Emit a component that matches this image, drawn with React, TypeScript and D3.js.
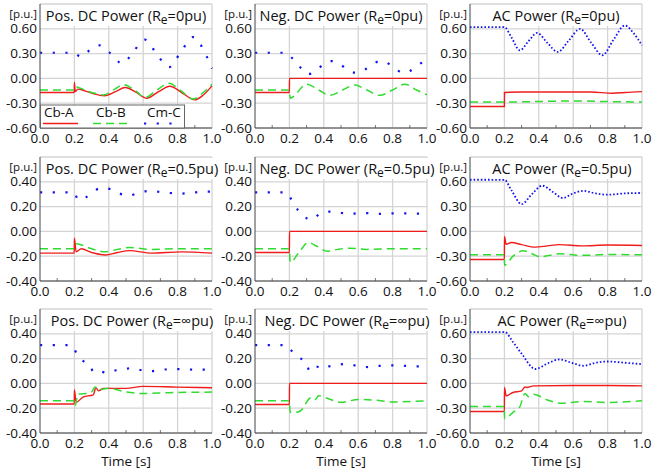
import React, { useEffect, useRef } from 'react';
import * as d3 from 'd3';

type Pt = [number, number];

// text
const powerNames = ['Pos. DC Power', 'Neg. DC Power', 'AC Power'];
const reLabels = ['0', '0.5', '∞'];
const legendNames = ['Cb-A', 'Cb-B', 'Cm-C'];
const xTicks = [0, 0.2, 0.4, 0.6, 0.8, 1.0];
const wideTicks = [-0.6, -0.3, 0, 0.3, 0.6];
const narrowTicks = [-0.4, -0.2, 0, 0.2, 0.4];
const wideDomain: Pt = [-0.6, 0.9];
const narrowDomain: Pt = [-0.4, 0.6];

// Re = 0pu
const pos0A: Pt[] = [[0, -0.17], [0.199, -0.17], [0.2, -0.05], [0.205, -0.16], [0.22, -0.13], [0.26, -0.15], [0.31, -0.185], [0.375, -0.21], [0.44, -0.16], [0.495, -0.11], [0.56, -0.17], [0.62, -0.24], [0.69, -0.16], [0.755, -0.095], [0.83, -0.18], [0.9, -0.26], [0.95, -0.2], [1.0, -0.09]];
const pos0B: Pt[] = [[0, -0.14], [0.199, -0.14], [0.205, -0.1], [0.23, -0.115], [0.3, -0.17], [0.37, -0.2], [0.43, -0.135], [0.485, -0.075], [0.55, -0.14], [0.61, -0.23], [0.68, -0.14], [0.75, -0.06], [0.82, -0.15], [0.89, -0.25], [0.95, -0.17], [1.0, -0.07]];
const pos0C: Pt[] = [[0, 0.31], [0.2, 0.31], [0.235, 0.26], [0.275, 0.32], [0.345, 0.4], [0.4, 0.32], [0.48, 0.18], [0.547, 0.336], [0.61, 0.47], [0.682, 0.284], [0.75, 0.135], [0.818, 0.316], [0.89, 0.5], [0.965, 0.284], [1.0, 0.12]];

const neg0A: Pt[] = [[0, -0.17], [0.2, -0.17], [0.2005, 0], [1.0, 0]];
const neg0B: Pt[] = [[0, -0.14], [0.199, -0.14], [0.205, -0.24], [0.22, -0.225], [0.3, -0.07], [0.37, -0.14], [0.435, -0.205], [0.51, -0.14], [0.58, -0.08], [0.65, -0.14], [0.725, -0.205], [0.8, -0.14], [0.87, -0.07], [0.94, -0.14], [1.0, -0.2]];
const neg0C: Pt[] = [[0, 0.31], [0.185, 0.31], [0.2, 0.276], [0.232, 0.215], [0.265, 0.13], [0.305, 0.05], [0.354, 0.093], [0.393, 0.162], [0.44, 0.21], [0.489, 0.182], [0.532, 0.113], [0.58, 0.07], [0.638, 0.105], [0.681, 0.166], [0.729, 0.211], [0.783, 0.17], [0.822, 0.105], [0.87, 0.065], [0.919, 0.113], [0.963, 0.182], [1.0, 0.21]];

const ac0A: Pt[] = [[0, -0.34], [0.2, -0.34], [0.2005, -0.17], [0.3, -0.165], [0.5, -0.165], [0.7, -0.165], [0.83, -0.18], [0.9, -0.17], [1.0, -0.16]];
const ac0B: Pt[] = [[0, -0.285], [0.2, -0.285], [0.4, -0.28], [0.6, -0.272], [0.8, -0.28], [1.0, -0.285]];
const ac0C: Pt[] = [[0, 0.62], [0.2, 0.62], [0.24, 0.5], [0.29, 0.34], [0.34, 0.45], [0.39, 0.55], [0.45, 0.43], [0.51, 0.32], [0.575, 0.46], [0.64, 0.6], [0.705, 0.43], [0.77, 0.28], [0.835, 0.47], [0.9, 0.64], [0.95, 0.55], [1.0, 0.4]];

// Re = 0.5pu
const posHalfA: Pt[] = [[0, -0.175], [0.199, -0.175], [0.2, -0.055], [0.21, -0.165], [0.24, -0.14], [0.3, -0.17], [0.38, -0.19], [0.45, -0.17], [0.52, -0.155], [0.65, -0.175], [0.82, -0.165], [1.0, -0.175]];
const posHalfB: Pt[] = [[0, -0.14], [0.199, -0.14], [0.21, -0.1], [0.3, -0.14], [0.38, -0.165], [0.45, -0.145], [0.52, -0.13], [0.65, -0.145], [0.8, -0.14], [1.0, -0.14]];
const posHalfC: Pt[] = [[0, 0.315], [0.2, 0.315], [0.22, 0.256], [0.267, 0.275], [0.306, 0.315], [0.355, 0.35], [0.407, 0.342], [0.455, 0.31], [0.514, 0.288], [0.572, 0.31], [0.63, 0.326], [0.688, 0.32], [0.752, 0.31], [0.814, 0.305], [0.882, 0.31], [0.94, 0.32], [1.0, 0.32]];

const negHalfA: Pt[] = [[0, -0.17], [0.2, -0.17], [0.2005, 0], [1.0, 0]];
const negHalfB: Pt[] = [[0, -0.14], [0.199, -0.14], [0.205, -0.25], [0.25, -0.18], [0.31, -0.09], [0.36, -0.12], [0.42, -0.16], [0.48, -0.145], [0.55, -0.135], [0.65, -0.145], [0.8, -0.14], [1.0, -0.14]];
const negHalfC: Pt[] = [[0, 0.315], [0.185, 0.315], [0.2, 0.283], [0.222, 0.234], [0.251, 0.17], [0.284, 0.121], [0.329, 0.094], [0.371, 0.135], [0.426, 0.159], [0.484, 0.154], [0.547, 0.14], [0.613, 0.148], [0.677, 0.148], [0.745, 0.14], [0.812, 0.146], [0.88, 0.146], [0.948, 0.143], [1.0, 0.143]];

const acHalfA: Pt[] = [[0, -0.34], [0.2, -0.34], [0.2005, -0.06], [0.21, -0.155], [0.24, -0.135], [0.3, -0.16], [0.38, -0.19], [0.45, -0.175], [0.52, -0.16], [0.65, -0.175], [0.8, -0.165], [1.0, -0.17]];
const acHalfB: Pt[] = [[0, -0.283], [0.2, -0.283], [0.2005, -0.41], [0.25, -0.3], [0.31, -0.234], [0.36, -0.27], [0.41, -0.31], [0.46, -0.29], [0.52, -0.27], [0.65, -0.29], [0.8, -0.28], [1.0, -0.283]];
const acHalfC: Pt[] = [[0, 0.625], [0.2, 0.625], [0.24, 0.5], [0.3, 0.33], [0.36, 0.45], [0.42, 0.553], [0.48, 0.48], [0.54, 0.404], [0.6, 0.46], [0.66, 0.49], [0.73, 0.46], [0.8, 0.444], [0.9, 0.46], [1.0, 0.465]];

// Re = inf
const posInfA: Pt[] = [[0, -0.166], [0.199, -0.166], [0.2, -0.05], [0.21, -0.153], [0.25, -0.11], [0.31, -0.092], [0.325, -0.034], [0.34, -0.06], [0.37, -0.04], [0.5, -0.04], [0.6, -0.024], [0.8, -0.03], [1.0, -0.035]];
const posInfB: Pt[] = [[0, -0.14], [0.199, -0.14], [0.205, -0.18], [0.22, -0.087], [0.28, -0.08], [0.3, -0.07], [0.32, -0.03], [0.34, -0.05], [0.4, -0.04], [0.5, -0.069], [0.6, -0.082], [0.75, -0.075], [1.0, -0.07]];
const posInfC: Pt[] = [[0, 0.309], [0.185, 0.309], [0.198, 0.282], [0.213, 0.24], [0.242, 0.19], [0.287, 0.15], [0.314, 0.09], [0.349, 0.098], [0.388, 0.084], [0.442, 0.106], [0.488, 0.116], [0.539, 0.124], [0.585, 0.108], [0.636, 0.098], [0.694, 0.106], [0.756, 0.116], [0.843, 0.113], [0.92, 0.111], [1.0, 0.111]];

const negInfA: Pt[] = [[0, -0.17], [0.2, -0.17], [0.2005, 0], [1.0, 0]];
const negInfB: Pt[] = [[0, -0.14], [0.199, -0.14], [0.205, -0.235], [0.25, -0.23], [0.28, -0.2], [0.3, -0.15], [0.33, -0.113], [0.35, -0.13], [0.37, -0.1], [0.42, -0.12], [0.5, -0.153], [0.6, -0.13], [0.7, -0.135], [0.8, -0.15], [1.0, -0.14]];
const negInfC: Pt[] = [[0, 0.309], [0.185, 0.309], [0.2, 0.282], [0.222, 0.25], [0.257, 0.208], [0.296, 0.17], [0.319, 0.098], [0.354, 0.137], [0.393, 0.116], [0.431, 0.137], [0.484, 0.15], [0.522, 0.156], [0.567, 0.15], [0.605, 0.135], [0.658, 0.132], [0.725, 0.142], [0.783, 0.145], [0.841, 0.145], [0.909, 0.137], [0.967, 0.137], [1.0, 0.137]];

const acInfA: Pt[] = [[0, -0.34], [0.2, -0.34], [0.2005, -0.05], [0.21, -0.15], [0.25, -0.11], [0.3, -0.09], [0.32, -0.043], [0.33, -0.05], [0.37, -0.03], [0.6, -0.025], [0.8, -0.025], [1.0, -0.03]];
const acInfB: Pt[] = [[0, -0.28], [0.2, -0.28], [0.2005, -0.427], [0.25, -0.35], [0.29, -0.28], [0.32, -0.122], [0.34, -0.16], [0.37, -0.13], [0.45, -0.2], [0.53, -0.24], [0.65, -0.22], [0.8, -0.23], [1.0, -0.21]];
const acInfC: Pt[] = [[0, 0.62], [0.203, 0.62], [0.25, 0.5], [0.3, 0.36], [0.38, 0.174], [0.45, 0.24], [0.52, 0.29], [0.59, 0.25], [0.66, 0.213], [0.73, 0.25], [0.8, 0.265], [0.9, 0.25], [1.0, 0.233]];

const panelData: Pt[][][] = [
  [pos0A, pos0B, pos0C], [neg0A, neg0B, neg0C], [ac0A, ac0B, ac0C],
  [posHalfA, posHalfB, posHalfC], [negHalfA, negHalfB, negHalfC], [acHalfA, acHalfB, acHalfC],
  [posInfA, posInfB, posInfC], [negInfA, negInfB, negInfC], [acInfA, acInfB, acInfC],
];

const W = 653;
const H = 471;
const colLeft = [40, 255, 470];
const rowTop = [4, 157, 309];
const plotW = 172;
const plotH = 124;
const FONT = '"Open Sans", sans-serif';
const colors = ['#f01c1c', '#2fdc2f', '#1414f0'];

const App = () => {
  const svgRef = useRef<SVGSVGElement>(null);

  useEffect(() => {
    const svg = d3.select(svgRef.current);
    svg.selectAll('*').remove();
    svg.append('rect').attr('width', W).attr('height', H).attr('fill', '#fff');

    const line = d3.line<Pt>().curve(d3.curveMonotoneX);

    panelData.forEach((series, i) => {
      const row = Math.floor(i / 3);
      const col = i % 3;
      const left = colLeft[col];
      const top = rowTop[row];
      const wide = row === 0 || col === 2;
      const yTicks = wide ? wideTicks : narrowTicks;

      const x = d3.scaleLinear().domain([0, 1]).range([left, left + plotW]);
      const y = d3.scaleLinear().domain(wide ? wideDomain : narrowDomain).range([top + plotH, top]);

      const g = svg.append('g');

      // grid
      g.selectAll('.gx').data(xTicks.slice(1)).enter().append('line')
        .attr('x1', d => x(d)).attr('x2', d => x(d))
        .attr('y1', top).attr('y2', top + plotH)
        .attr('stroke', '#d4d4d4').attr('stroke-width', 1.3);
      g.selectAll('.gy').data([...yTicks, y.domain()[1]]).enter().append('line')
        .attr('x1', left).attr('x2', left + plotW)
        .attr('y1', d => y(d)).attr('y2', d => y(d))
        .attr('stroke', '#d4d4d4').attr('stroke-width', 1.3);

      // minor ticks
      g.selectAll('.mx').data([0.1, 0.3, 0.5, 0.7, 0.9]).enter().append('line')
        .attr('x1', d => x(d)).attr('x2', d => x(d))
        .attr('y1', top + plotH).attr('y2', top + plotH - 3)
        .attr('stroke', '#555').attr('stroke-width', 0.8);

      // series
      series.forEach((pts, k) => {
        const mapped = pts.map(p => [x(p[0]), y(p[1])] as Pt);
        const path = g.append('path')
          .attr('d', line(mapped))
          .attr('fill', 'none')
          .attr('stroke', colors[k]);
        if (k === 0) path.attr('stroke-width', 1.4);
        if (k === 1) path.attr('stroke-width', 1.5).attr('stroke-dasharray', '8,5');
        if (k === 2) {
          if (col === 2) path.attr('stroke-width', 1.8).attr('stroke-dasharray', '1.6,2');
          else path.attr('stroke-width', 2.2).attr('stroke-dasharray', '2.2,10.5');
        }
      });

      // axes
      g.append('line').attr('x1', left).attr('x2', left).attr('y1', top).attr('y2', top + plotH)
        .attr('stroke', '#444').attr('stroke-width', 1);
      g.append('line').attr('x1', left).attr('x2', left + plotW).attr('y1', top + plotH).attr('y2', top + plotH)
        .attr('stroke', '#444').attr('stroke-width', 1);

      // tick labels
      g.selectAll('.ty').data(yTicks).enter().append('text')
        .attr('x', left - 3).attr('y', d => y(d) + 4.6)
        .attr('text-anchor', 'end')
        .style('font-family', FONT).style('font-size', '13.5px').attr('fill', '#111')
        .text(d => d.toFixed(2));
      g.selectAll('.tx').data(xTicks).enter().append('text')
        .attr('x', d => x(d)).attr('y', top + plotH + 14.5)
        .attr('text-anchor', 'middle')
        .style('font-family', FONT).style('font-size', '13.5px').attr('fill', '#111')
        .text(d => d.toFixed(1));

      g.append('text').attr('x', left - 3).attr('y', top + 14)
        .attr('text-anchor', 'end')
        .style('font-family', FONT).style('font-size', '11.5px').attr('fill', '#111')
        .text('[p.u.]');

      // title
      const tg = g.append('g');
      const title = tg.append('text')
        .attr('x', left + plotW / 2 + (row === 0 ? 0 : 6)).attr('y', top + 17)
        .attr('text-anchor', 'middle')
        .style('font-family', FONT).style('font-size', '14.5px').attr('fill', '#111');
      title.append('tspan').text(`${powerNames[col]} (R`);
      title.append('tspan').attr('dy', 3).style('font-size', '12px').text('e');
      title.append('tspan').attr('dy', -3).text(`=${reLabels[row]}pu)`);
      const bb = (title.node() as SVGTextElement).getBBox();
      tg.insert('rect', 'text')
        .attr('x', bb.x - 2).attr('y', top + 1).attr('width', bb.width + 4).attr('height', 21)
        .attr('fill', '#fff');

      if (row === 2) {
        g.append('text').attr('x', left + plotW / 2).attr('y', 465.5)
          .attr('text-anchor', 'middle')
          .style('font-family', FONT).style('font-size', '13.5px').attr('fill', '#111')
          .text('Time [s]');
      }

      // legend
      if (i === 0) {
        const lg = g.append('g');
        lg.append('rect').attr('x', left + 0.5).attr('y', 105).attr('width', 144).attr('height', top + plotH - 105)
          .attr('fill', '#fff').attr('stroke', '#666').attr('stroke-width', 1);
        const lx = [44, 96, 147];
        const sx: Pt[] = [[43, 78], [93, 128], [144, 179]];
        legendNames.forEach((name, k) => {
          lg.append('text').attr('x', lx[k]).attr('y', 117)
            .style('font-family', FONT).style('font-size', '13.5px').attr('fill', '#111')
            .text(name);
          const l = lg.append('line').attr('x1', sx[k][0]).attr('x2', sx[k][1]).attr('y1', 123.5).attr('y2', 123.5)
            .attr('stroke', colors[k]);
          if (k === 0) l.attr('stroke-width', 1.4);
          if (k === 1) l.attr('stroke-width', 1.5).attr('stroke-dasharray', '8,5');
          if (k === 2) l.attr('stroke-width', 2.2).attr('stroke-dasharray', '2.2,10.5');
        });
      }
    });
  }, []);

  return (
    <svg ref={svgRef} width={W} height={H}
      style={{ position: 'absolute', left: 0, top: 0 }} />
  );
};

export default App;
